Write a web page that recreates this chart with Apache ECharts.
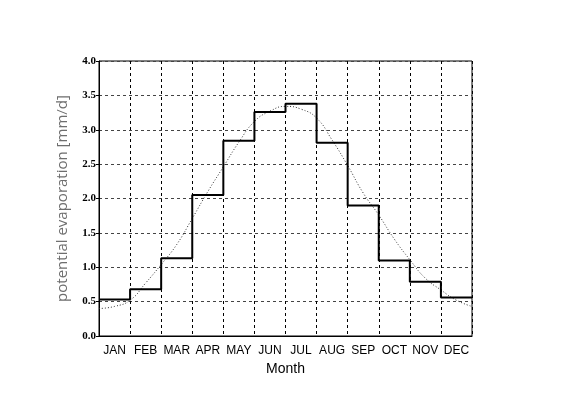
<!DOCTYPE html>
<html>
<head>
<meta charset="utf-8">
<script src="https://cdn.jsdelivr.net/npm/echarts@6/dist/echarts.min.js"></script>
<style>
html,body{margin:0;padding:0;background:#fff;}
#chart{width:563px;height:396px;}
</style>
</head>
<body>
<div id="chart"></div>
<script>
var months = ['JAN','FEB','MAR','APR','MAY','JUN','JUL','AUG','SEP','OCT','NOV','DEC'];
var monthlyEvap = [0.53, 0.68, 1.13, 2.05, 2.84, 3.26, 3.38, 2.81, 1.90, 1.10, 0.79, 0.56];
var curvePos = [0, 0.5, 1, 1.5, 2, 2.5, 3, 3.5, 4, 4.5, 5, 5.5, 6, 6.5, 7, 7.5, 8, 8.5, 9, 9.5, 10, 10.5, 11, 11.5, 12];
var curveEvap = [0.40, 0.43, 0.52, 0.77, 1.04, 1.33, 1.71, 2.10, 2.46, 2.82, 3.12, 3.27, 3.34, 3.30, 3.17, 2.85, 2.48, 2.08, 1.76, 1.41, 1.11, 0.84, 0.67, 0.52, 0.43];
var yTicks = ['0.0','0.5','1.0','1.5','2.0','2.5','3.0','3.5','4.0'];

var stepData = monthlyEvap.map(function(v, i){ return [i, v]; });
stepData.push([months.length, monthlyEvap[monthlyEvap.length - 1]]);
var curveData = curvePos.map(function(p, i){ return [p, curveEvap[i]]; });

var chart = echarts.init(document.getElementById('chart'), null, {renderer:'canvas'});
chart.setOption({
  animation: false,
  backgroundColor: '#fff',
  grid: {left: 99, right: 91, top: 61, bottom: 60, show: true, borderColor: '#000', borderWidth: 1, backgroundColor: 'transparent'},
  xAxis: [{
    type: 'category',
    data: months,
    boundaryGap: true,
    position: 'bottom',
    axisLine: {show: true, lineStyle: {color: '#000', width: 1}},
    axisTick: {show: false},
    axisLabel: {interval: 0, color: '#000', fontFamily: 'Liberation Sans', fontSize: 12, margin: 9},
    splitLine: {show: true, interval: 0, lineStyle: {color: '#000', type: [3, 3], width: 1}},
    name: 'Month',
    nameLocation: 'middle',
    nameGap: 25,
    nameTextStyle: {color: '#000', fontFamily: 'Liberation Sans', fontSize: 14}
  }, {
    type: 'value',
    min: 0, max: 12,
    show: false,
    splitLine: {show: false}
  }],
  yAxis: {
    type: 'value',
    min: 0, max: 4, interval: 0.5,
    axisLine: {show: true, lineStyle: {color: '#000', width: 1}},
    axisTick: {show: true, length: 3, lineStyle: {color: '#000'}},
    axisLabel: {color: '#000', fontFamily: 'Liberation Serif', fontWeight: 'bold', fontSize: 11, margin: 3,
      formatter: function(v){ return yTicks[Math.round(v / 0.5)]; }},
    splitLine: {show: true, lineStyle: {color: '#444', type: [3, 3], width: 1}},
    name: 'potential evaporation [mm/d]',
    nameLocation: 'middle',
    nameGap: 29,
    nameTextStyle: {color: '#6e6e6e', fontFamily: 'Open Sans', fontSize: 15}
  },
  series: [{
    type: 'line',
    xAxisIndex: 1,
    data: curveData,
    smooth: true,
    symbol: 'none',
    lineStyle: {color: '#333', width: 1, type: [1, 2]},
    z: 2
  }, {
    type: 'line',
    xAxisIndex: 1,
    data: stepData,
    step: 'end',
    symbol: 'none',
    lineStyle: {color: '#000', width: 2},
    z: 3
  }]
});
</script>
</body>
</html>
